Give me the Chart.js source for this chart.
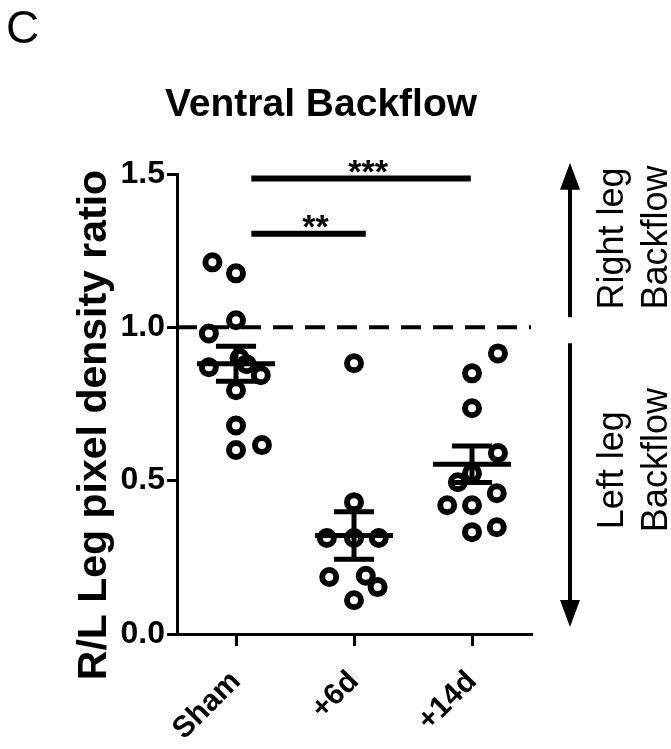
<!DOCTYPE html>
<html>
<head>
<meta charset="utf-8">
<script src="https://cdn.jsdelivr.net/npm/chart.js@4.4.0/dist/chart.umd.min.js"></script>
<style>
  html, body { margin: 0; padding: 0; background: #fff; }
  #wrap { width: 671px; height: 749px; position: relative; }
</style>
</head>
<body>
<div id="wrap"><canvas id="scatterChart"></canvas></div>
<script>
// ── DATA ──────────────────────────────────────────────────────
const GROUPS = ['Sham', '+6d', '+14d'];

const SHAM_Y   = [1.212, 1.176, 1.023, 0.98, 0.90, 0.88, 0.87, 0.844, 0.795, 0.68, 0.60, 0.616];
const SHAM_DX  = [-0.20, 0, 0, -0.23, 0.03, 0.09, -0.23, 0.21, 0, 0, 0, 0.22];

const D6_Y     = [0.883, 0.43, 0.313, 0.313, 0.313, 0.186, 0.19, 0.153, 0.11];
const D6_DX    = [0, 0, -0.23, 0, 0.21, -0.21, 0.10, 0.20, 0];

const D14_Y    = [0.915, 0.85, 0.736, 0.59, 0.524, 0.495, 0.459, 0.42, 0.42, 0.332, 0.348];
const D14_DX   = [0.22, 0, 0, 0.22, 0, -0.12, 0.21, -0.21, 0, 0, 0.21];

const Y_TICKS  = [0, 0.5, 1.0, 1.5];
const REF_LINE = 1.0;

const SIG_TEXT = ['**', '***'];
const SIG_FROM = [1.13, 1.13];
const SIG_TO   = [2.10, 2.99];
const SIG_Y    = [1.305, 1.485];

const UP_ARROW   = [1.033, 1.537];
const DOWN_ARROW = [0.948, 0.023];

const TITLE   = 'Ventral Backflow';
const Y_TITLE = 'R/L Leg pixel density ratio';
const PANEL   = 'C';

const FONT = '"Liberation Sans", Arial, sans-serif';
const BLACK = '#000';

// ── HELPERS ───────────────────────────────────────────────────
const meanOf = a => a.reduce((s, v) => s + v, 0) / a.length;
const semOf = a => {
  const m = meanOf(a);
  const sd = Math.sqrt(a.reduce((s, v) => s + (v - m) ** 2, 0) / (a.length - 1));
  return sd / Math.sqrt(a.length);
};

const SERIES = [[SHAM_Y, SHAM_DX], [D6_Y, D6_DX], [D14_Y, D14_DX]];

function pointsDataset(ys, dxs, i) {
  return {
    type: 'scatter',
    data: ys.map((v, k) => ({ x: i + 1 + dxs[k], y: v })),
    pointStyle: 'circle',
    pointRadius: 7,
    pointHoverRadius: 7,
    borderWidth: 6,
    borderColor: BLACK,
    backgroundColor: 'rgba(0,0,0,0)',
    order: 1
  };
}

function summaryDataset(ys, i) {
  const c = i + 1, m = meanOf(ys), s = semOf(ys);
  return {
    type: 'line',
    data: [
      { x: c - 0.33, y: m }, { x: c + 0.33, y: m }, { x: c, y: null },
      { x: c - 0.17, y: m + s }, { x: c + 0.17, y: m + s }, { x: c, y: null },
      { x: c, y: m + s }, { x: c, y: m - s }, { x: c, y: null },
      { x: c - 0.17, y: m - s }, { x: c + 0.17, y: m - s }
    ],
    borderColor: BLACK,
    borderWidth: 5,
    borderCapStyle: 'butt',
    pointRadius: 0,
    spanGaps: false,
    order: 0
  };
}

// ── ANNOTATIONS (title, brackets, arrows) ─────────────────────
const annotate = {
  id: 'annotate',
  afterDatasetsDraw(chart) {
    const { ctx, chartArea: a, scales: { x, y } } = chart;
    ctx.save();
    ctx.fillStyle = BLACK;
    ctx.strokeStyle = BLACK;

    ctx.font = '46px ' + FONT;
    ctx.textAlign = 'left';
    ctx.textBaseline = 'middle';
    ctx.fillText(PANEL, 6, 30);

    ctx.font = 'bold 39px ' + FONT;
    ctx.textAlign = 'center';
    ctx.fillText(TITLE, 321, 105);

    ctx.save();
    ctx.translate(95, 425);
    ctx.rotate(-Math.PI / 2);
    ctx.font = 'bold 41px ' + FONT;
    ctx.fillText(Y_TITLE, 0, 0);
    ctx.restore();

    // significance brackets
    SIG_TEXT.forEach((t, i) => {
      const x0 = x.getPixelForValue(SIG_FROM[i]);
      const x1 = x.getPixelForValue(SIG_TO[i]);
      const yy = y.getPixelForValue(SIG_Y[i]);
      ctx.lineWidth = 6;
      ctx.beginPath();
      ctx.moveTo(x0, yy);
      ctx.lineTo(x1, yy);
      ctx.stroke();
      ctx.font = 'bold 34px ' + FONT;
      ctx.textAlign = 'center';
      ctx.textBaseline = 'alphabetic';
      ctx.fillText(t, (x0 + x1) / 2 + 7, yy + 4);
    });

    // direction arrows
    const ax = a.right + 39;
    const arrow = (from, to) => {
      const p0 = y.getPixelForValue(from), p1 = y.getPixelForValue(to);
      const dir = Math.sign(p1 - p0);
      ctx.lineWidth = 4;
      ctx.beginPath();
      ctx.moveTo(ax, p0);
      ctx.lineTo(ax, p1 - dir * 20);
      ctx.stroke();
      ctx.beginPath();
      ctx.moveTo(ax, p1);
      ctx.lineTo(ax - 10, p1 - dir * 27);
      ctx.lineTo(ax + 10, p1 - dir * 27);
      ctx.closePath();
      ctx.fill();
    };
    arrow(UP_ARROW[0], UP_ARROW[1]);
    arrow(DOWN_ARROW[0], DOWN_ARROW[1]);

    const side = (txt, px, val) => {
      ctx.save();
      ctx.translate(px, y.getPixelForValue(val));
      ctx.rotate(-Math.PI / 2);
      ctx.font = '36px ' + FONT;
      ctx.textAlign = 'center';
      ctx.textBaseline = 'middle';
      ctx.fillText(txt, 0, 0);
      ctx.restore();
    };
    side('Right leg', a.right + 82, 1.29);
    side('Backflow', a.right + 126, 1.293);
    side('Left leg', a.right + 82, 0.534);
    side('Backflow', a.right + 126, 0.567);

    ctx.restore();
  }
};

// ── CHART ─────────────────────────────────────────────────────
const datasets = [{
  type: 'line',
  data: [{ x: 0.5, y: REF_LINE }, { x: 3.5, y: REF_LINE }],
  borderColor: BLACK,
  borderWidth: 4,
  borderDash: [20, 12],
  pointRadius: 0,
  order: 2
}];
SERIES.forEach(([ys, dxs], i) => {
  datasets.push(pointsDataset(ys, dxs, i));
  datasets.push(summaryDataset(ys, i));
});

const ctx = document.getElementById('scatterChart').getContext('2d');
new Chart(ctx, {
  data: { datasets: datasets },
  options: {
    responsive: true,
    maintainAspectRatio: false,
    animation: false,
    layout: { padding: { top: 174, right: 140, bottom: 0, left: 0 } },
    plugins: {
      legend: { display: false },
      tooltip: { enabled: false }
    },
    scales: {
      x: {
        type: 'linear',
        min: 0.5,
        max: 3.5,
        afterBuildTicks: s => { s.ticks = GROUPS.map((g, i) => ({ value: i + 1 })); },
        afterFit: s => { s.height = 115; s.paddingLeft = 0; s.paddingRight = 0; },
        border: { display: true, width: 3, color: BLACK },
        grid: { drawOnChartArea: false, drawTicks: true, tickLength: 12, lineWidth: 3, color: BLACK },
        ticks: {
          autoSkip: false,
          minRotation: 45,
          maxRotation: 45,
          padding: 18,
          color: BLACK,
          font: { family: FONT, size: 30, weight: 'bold' },
          callback: v => GROUPS[v - 1]
        }
      },
      y: {
        min: 0,
        max: 1.5,
        afterBuildTicks: s => { s.ticks = Y_TICKS.map(v => ({ value: v })); },
        afterFit: s => { s.width = 177; s.paddingTop = 0; s.paddingBottom = 0; },
        border: { display: true, width: 3, color: BLACK },
        grid: { drawOnChartArea: false, drawTicks: true, tickLength: 10, lineWidth: 3, color: BLACK },
        ticks: {
          padding: 2,
          color: BLACK,
          font: { family: FONT, size: 32, weight: 'bold' },
          callback: v => v.toFixed(1)
        }
      }
    }
  },
  plugins: [annotate]
});
</script>
</body>
</html>
